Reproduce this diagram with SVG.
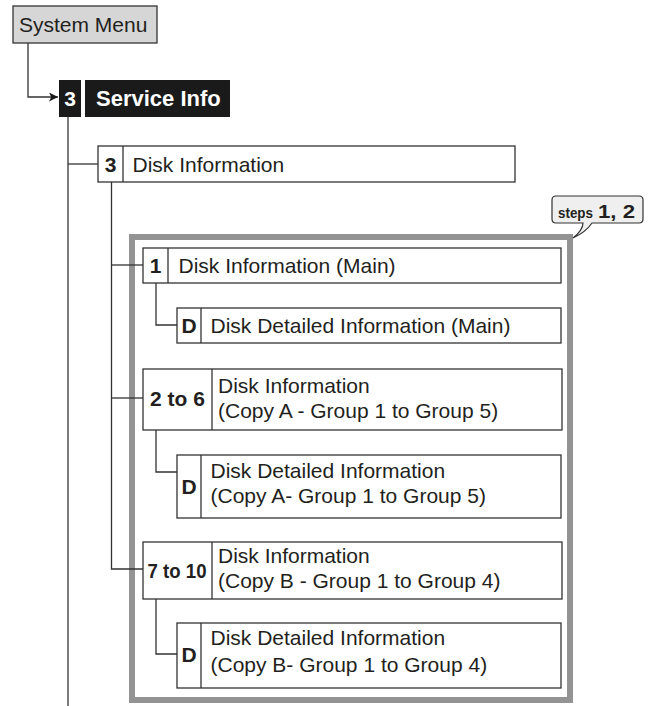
<svg xmlns="http://www.w3.org/2000/svg" width="648" height="706" viewBox="0 0 648 706">
<defs>
<marker id="arr" viewBox="0 0 10 10" refX="10" refY="5" markerWidth="11" markerHeight="9" markerUnits="userSpaceOnUse" orient="auto">
<path d="M0,0 L10,5 L0,10 L2.5,5 z" fill="#1a1a1a"/>
</marker>
<style>
.box{fill:#fff;stroke:#333;stroke-width:1.3}
.div{stroke:#333;stroke-width:1.3}
.ln{fill:none;stroke:#333;stroke-width:1.3}
.t{font-family:"Liberation Sans",Arial,sans-serif;font-size:21px;fill:#231f20}
.b{font-family:"Liberation Sans",Arial,sans-serif;font-size:21px;font-weight:bold;fill:#231f20}
.c{text-anchor:middle}
</style>
</defs>
<rect width="648" height="706" fill="#fff"/>
<g id="frame">
<rect x="132" y="237" width="438" height="463" fill="none" stroke="#939393" stroke-width="6"/>
</g>
<g id="connectors">
<path class="ln" d="M28,43 V97 H58" marker-end="url(#arr)"/>
<path class="ln" d="M68,117 V706"/>
<path class="ln" d="M68,164 H98"/>
<path class="ln" d="M111.5,182 V569 H143"/>
<path class="ln" d="M111.5,265 H143"/>
<path class="ln" d="M111.5,398 H143"/>
<path class="ln" d="M156,283 V325 H177"/>
<path class="ln" d="M156,430 V472 H177"/>
<path class="ln" d="M156,599 V654 H177"/>
</g>
<g id="system-menu">
<rect x="13" y="6" width="144" height="37" fill="#d6d6d6" stroke="#333" stroke-width="1.3"/>
<text class="t" x="19" y="32">System Menu</text>
</g>
<g id="service-info">
<rect x="59" y="80" width="22" height="37" fill="#1a1a1a"/>
<rect x="85" y="80" width="145" height="37" fill="#1a1a1a"/>
<text class="b c" x="70" y="106" style="fill:#fff">3</text>
<text class="b" x="96" y="106" style="fill:#fff;font-size:22px">Service Info</text>
</g>
<g id="disk-information">
<rect class="box" x="98" y="146" width="417" height="36"/>
<line class="div" x1="123" y1="146" x2="123" y2="182"/>
<text class="b c" x="110.5" y="172">3</text>
<text class="t" x="132.5" y="172">Disk Information</text>
</g>
<g id="callout">
<path d="M556,196 H639 Q643,196 643,200 V219 Q643,223 639,223 H592 Q586,232 573,238 Q583,230 583,223 H556 Q552,223 552,219 V200 Q552,196 556,196 Z" fill="#efefef" stroke="#333" stroke-width="1.2"/>
<text class="b" x="558" y="217.5" style="font-size:15px" textLength="35" lengthAdjust="spacingAndGlyphs">steps</text>
<text class="b" x="598" y="217.5" style="font-size:18px" textLength="37" lengthAdjust="spacingAndGlyphs">1, 2</text>
</g>
<g id="disk-info-main">
<rect class="box" x="143" y="248" width="418" height="35"/>
<line class="div" x1="168" y1="248" x2="168" y2="283"/>
<text class="b c" x="155.5" y="273">1</text>
<text class="t" x="178.5" y="273">Disk Information (Main)</text>
</g>
<g id="disk-detail-main">
<rect class="box" x="177" y="308" width="384" height="35"/>
<line class="div" x1="201" y1="308" x2="201" y2="343"/>
<text class="b c" x="189" y="333">D</text>
<text class="t" x="210.5" y="333">Disk Detailed Information (Main)</text>
</g>
<g id="disk-info-copy-a">
<rect class="box" x="143" y="369" width="419" height="61"/>
<line class="div" x1="212" y1="369" x2="212" y2="430"/>
<text class="b c" x="177.5" y="406">2 to 6</text>
<text class="t" x="218" y="393">Disk Information</text>
<text class="t" x="218" y="418">(Copy A - Group 1 to Group 5)</text>
</g>
<g id="disk-detail-copy-a">
<rect class="box" x="177" y="455" width="384" height="63"/>
<line class="div" x1="201" y1="455" x2="201" y2="518"/>
<text class="b c" x="189" y="494">D</text>
<text class="t" x="210.5" y="478">Disk Detailed Information</text>
<text class="t" x="210.5" y="503">(Copy A- Group 1 to Group 5)</text>
</g>
<g id="disk-info-copy-b">
<rect class="box" x="143" y="542" width="419" height="57"/>
<line class="div" x1="212" y1="542" x2="212" y2="599"/>
<text class="b" x="147.5" y="578" textLength="59" lengthAdjust="spacingAndGlyphs">7 to 10</text>
<text class="t" x="218" y="563">Disk Information</text>
<text class="t" x="218" y="588">(Copy B - Group 1 to Group 4)</text>
</g>
<g id="disk-detail-copy-b">
<rect class="box" x="177" y="623" width="384" height="65"/>
<line class="div" x1="201" y1="623" x2="201" y2="688"/>
<text class="b c" x="189" y="662">D</text>
<text class="t" x="210.5" y="645">Disk Detailed Information</text>
<text class="t" x="210.5" y="672">(Copy B- Group 1 to Group 4)</text>
</g>
</svg>
